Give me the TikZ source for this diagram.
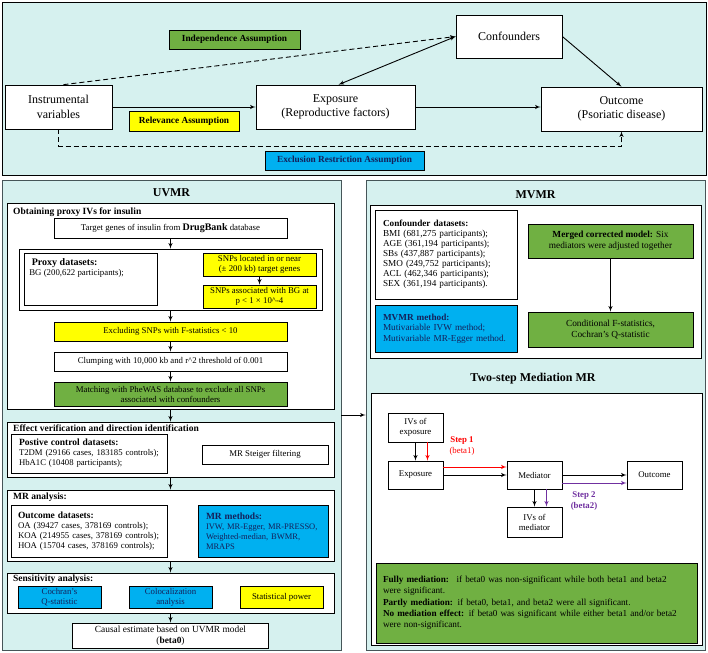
\documentclass[tikz,border=0pt]{standalone}
\usepackage{fontspec}
\setmainfont{Liberation Serif}
\usepackage{tikz}
\usetikzlibrary{shapes,arrows}

\definecolor{panelcyan}{RGB}{214,241,239}
\definecolor{panelline}{RGB}{70,85,88}
\definecolor{mrgreen}{RGB}{112,176,66}
\definecolor{mryellow}{RGB}{255,255,0}
\definecolor{mrblue}{RGB}{0,176,240}
\definecolor{navytext}{RGB}{20,32,90}
\definecolor{steppurple}{RGB}{112,48,160}

\tikzstyle{panel} = [rectangle, draw=panelline, fill=panelcyan, line width=0.8pt, inner sep=0pt]
\tikzstyle{holder} = [rectangle, draw, fill=white, inner sep=0pt, line width=0.7pt]
\tikzstyle{block} = [rectangle, draw, fill=white, align=center, inner sep=1pt,
    line width=0.7pt, font=\fontsize{8.8}{10}\selectfont]
\tikzstyle{datablock} = [block, align=left, inner xsep=8pt]
\tikzstyle{bigblock} = [block, font=\fontsize{12}{14.5}\selectfont]
\tikzstyle{assume} = [block, font=\bfseries\fontsize{9.3}{11}\selectfont]
\tikzstyle{head} = [anchor=west, inner sep=0pt, font=\bfseries\fontsize{9.5}{11}\selectfont]
\tikzstyle{paneltitle} = [inner sep=0pt, font=\bfseries\fontsize{12}{14}\selectfont]
\tikzstyle{line} = [draw, line width=0.9pt, -latex']
\tikzstyle{dline} = [draw, line width=0.9pt, dash pattern=on 5pt off 3pt, -latex']
\tikzset{wh/.style 2 args={minimum width=#1pt, minimum height=#2pt}}

\begin{document}
\begin{tikzpicture}[x=1pt, y=-1pt]
    \useasboundingbox (0,0) rectangle (708,652);
    % Panels
    \node [panel, draw=black, line width=0.6pt, wh={704}{173}] (top) at (354,88.5) {};
    \node [panel, wh={339}{470}] (uvmr) at (171.5,415) {};
    \node [panel, wh={339}{470}] (rpanel) at (535.5,415) {};

    % Place nodes: assumptions
    \node [bigblock, wh={107}{44}] (iv) at (58.5,107) {Instrumental\\variables};
    \node [bigblock, wh={159}{44}] (expo) at (335.5,107) {Exposure\\(Reproductive factors)};
    \node [bigblock, wh={161}{44}] (outc) at (621.5,109) {Outcome\\(Psoriatic disease)};
    \node [bigblock, wh={106}{43}] (conf) at (509,36.5) {Confounders};
    \node [assume, fill=mrgreen, wh={131}{19}] (indep) at (234.5,39.5) {Independence Assumption};
    \node [assume, fill=mryellow, wh={110}{20}] (relev) at (184,121) {Relevance Assumption};
    \node [assume, fill=mrblue, text=navytext, wh={159}{19}] (excl) at (344.5,160.5) {Exclusion Restriction Assumption};

    % Place nodes: UVMR
    \node [paneltitle] (uvmrtitle) at (171.5,193) {UVMR};
    \node [holder, wh={327}{206}] (obtain) at (170.5,306) {};
    \node [head] (obtainhead) at (13,212) {Obtaining proxy IVs for insulin};
    \node [block, wh={233}{20}] (target) at (170.5,228) {Target genes of insulin from {\bfseries\fontsize{10}{10}\selectfont DrugBank} database};
    \node [holder, wh={303}{61}] (proxyframe) at (170.5,279.5) {};
    \node [holder, anchor=north west, inner sep=5pt, font=\fontsize{8.8}{10}\selectfont] (proxy) at (24,253)
        {\parbox[t][42pt][t]{123pt}{{\bfseries\fontsize{10}{11}\selectfont \ Proxy datasets:}\\BG (200,622 participants);}};
    \node [block, fill=mryellow, wh={113}{23}] (snploc) at (259.5,264.5) {SNPs located in or near\\(± 200 kb) target genes};
    \node [block, fill=mryellow, wh={113}{23}] (snpbg) at (259.5,296.5) {SNPs associated with BG at\\p < 1 × 10\textasciicircum-4};
    \node [block, fill=mryellow, wh={233}{19}] (fstat) at (170.5,331.5) {Excluding SNPs with F-statistics < 10};
    \node [block, wh={233}{19}] (clump) at (170.5,361.5) {Clumping with 10,000 kb and r\textasciicircum2 threshold of 0.001};
    \node [block, fill=mrgreen, wh={233}{24}] (phewas) at (170.5,394) {Matching with PheWAS database to exclude all SNPs\\associated with confounders};

    \node [holder, wh={327}{55}] (effect) at (170.5,449.5) {};
    \node [head] (effecthead) at (13,428) {Effect verification and direction identification};
    \node [datablock, text width=140pt, minimum height=39pt, font=\fontsize{8.7}{10}\selectfont] (posctrl) at (89,453.5)
        {{\bfseries\fontsize{9.5}{10}\selectfont Postive control datasets:}\\T2DM (29166 cases, 183185 controls);\\HbA1C (10408 participants);};
    \node [block, wh={126}{19}] (steiger) at (265,454.5) {MR Steiger filtering};

    \node [holder, wh={327}{71}] (mrana) at (170.5,525.5) {};
    \node [head] (mranahead) at (13,497) {MR analysis:};
    \node [datablock, text width=142pt, inner xsep=7pt, minimum height=52pt] (outds) at (89,531)
        {{\bfseries\fontsize{9.5}{10}\selectfont Outcome datasets:}\\OA (39427 cases, 378169 controls);\\KOA (214955 cases, 378169 controls);\\HOA (15704 cases, 378169 controls);};
    \node [datablock, fill=mrblue, text=navytext, text width=114pt, minimum height=52pt, font=\fontsize{8.5}{10}\selectfont] (mrmeth) at (263,531)
        {{\bfseries\fontsize{9.5}{10}\selectfont MR methods:}\\IVW, MR-Egger, MR-PRESSO,\\Weighted-median, BWMR,\\MRAPS};

    \node [holder, wh={327}{40}] (sens) at (170.5,593) {};
    \node [head] (senshead) at (13,579) {Sensitivity analysis:};
    \node [block, fill=mrblue, text=navytext, wh={83}{22}] (cochran) at (59.5,597) {Cochran's\\Q-statistic};
    \node [block, fill=mrblue, text=navytext, wh={83}{22}] (coloc) at (170.5,597) {Colocalization\\analysis};
    \node [block, fill=mryellow, wh={83}{22}] (power) at (281.5,597) {Statistical power};
    \node [block, font=\fontsize{9.4}{11}\selectfont, wh={196}{25}] (causal) at (170.5,635.5) {Causal estimate based on UVMR model\\(\textbf{beta0})};

    % Place nodes: MVMR
    \node [paneltitle] (mvmrtitle) at (535.5,195) {MVMR};
    \node [holder, wh={331}{153}] (mvbox) at (535.5,281.5) {};
    \node [datablock, text width=126pt, minimum height=89pt, font=\fontsize{9.2}{10}\selectfont] (confds) at (446,254.5)
        {\textbf{Confounder datasets:}\\BMI (681,275 participants);\\AGE (361,194 participants);\\SBs (437,887 participants);\\SMO (249,752 participants);\\ACL (462,346 participants);\\SEX (361,194 participants).};
    \node [datablock, fill=mrblue, text=navytext, text width=126pt, minimum height=47pt, font=\fontsize{9.2}{10.5}\selectfont] (mvmeth) at (446,328.5)
        {\textbf{MVMR method:}\\Mutivariable IVW method;\\Mutivariable MR-Egger method.};
    \node [block, fill=mrgreen, wh={165}{34}, font=\fontsize{9.3}{11}\selectfont] (merged) at (610.5,241) {\textbf{Merged corrected model:} Six\\mediators were adjusted together};
    \node [block, fill=mrgreen, wh={165}{35}, font=\fontsize{9.3}{11}\selectfont] (condf) at (610.5,329.5) {Conditional F-statistics,\\Cochran's Q-statistic};

    % Place nodes: two-step mediation
    \node [paneltitle] (tstitle) at (533,379) {Two-step Mediation MR};
    \node [holder, wh={331}{252}] (tsbox) at (536.5,519) {};
    \node [block, wh={55}{29}, font=\fontsize{8.8}{10}\selectfont] (ivexp) at (415.5,427.5) {IVs of\\exposure};
    \node [block, wh={55}{28}, font=\fontsize{8.8}{10}\selectfont] (mexpo) at (415.5,475) {Exposure};
    \node [block, wh={55}{28}, font=\fontsize{8.8}{10}\selectfont] (medi) at (534.5,475) {Mediator};
    \node [block, wh={55}{28}, font=\fontsize{8.8}{10}\selectfont] (moutc) at (654.5,475) {Outcome};
    \node [block, wh={55}{30}, font=\fontsize{8.8}{10}\selectfont] (ivmed) at (534.5,522) {IVs of\\mediator};
    \node [text=red, align=center, font=\fontsize{8.8}{11}\selectfont] (step1) at (462,446) {\textbf{Step 1}\\(beta1)};
    \node [text=steppurple, align=center, font=\bfseries\fontsize{8.8}{11}\selectfont] (step2) at (584,501.5) {Step 2\\(beta2)};
    \node [block, fill=mrgreen, line width=0.9pt, wh={321}{80}, align=left, text width=307pt, font=\fontsize{9.2}{11.3}\selectfont] (rules) at (536.5,603)
        {\textbf{Fully mediation:} \ if beta0 was non-significant while both beta1 and beta2\\were significant.\\
         \textbf{Partly mediation:} if beta0, beta1, and beta2 were all significant.\\
         \textbf{No mediation effect:} if beta0 was significant while either beta1 and/or beta2\\were non-significant.};

    % Draw edges
    \path [dline] ([xshift=5pt]iv.north) -- (conf.west);
    \path [line, latex'-latex'] (conf.west) -- ([xshift=3pt]expo.north);
    \path [line] (conf.east) -- (outc.north);
    \path [line] (iv.east) -- (expo.west);
    \path [line] (expo.east) -- (expo.east -| outc.west);
    \path [dline] (iv.south) -- ++(0,17) -| (outc.south);

    \path [line] (target) -- (proxyframe);
    \path [line] (snploc) -- (snpbg);
    \path [line] (proxyframe) -- (fstat);
    \path [line] (fstat) -- (clump);
    \path [line] (clump) -- (phewas);
    \path [line] (obtain) -- (effect);
    \path [line] (effect) -- (mrana);
    \path [line] (mrana) -- (sens);
    \path [line] (sens) -- (causal);
    \path [line] (uvmr) -- (rpanel);

    \path [line] (merged) -- (condf);
    \path [line] (ivexp) -- (mexpo);
    \path [line, red] ([xshift=12pt]ivexp.south) -- ([xshift=12pt]mexpo.north);
    \path [line, red] ([yshift=8pt]mexpo.east) -- ([yshift=8pt]medi.west);
    \path [line] (mexpo) -- (medi);
    \path [line] (medi) -- (moutc);
    \path [line, steppurple] ([yshift=-8pt]medi.east) -- ([yshift=-8pt]moutc.west);
    \path [line] (medi) -- (ivmed);
    \path [line, steppurple] ([xshift=12pt]medi.south) -- ([xshift=12pt]ivmed.north);
\end{tikzpicture}
\end{document}
